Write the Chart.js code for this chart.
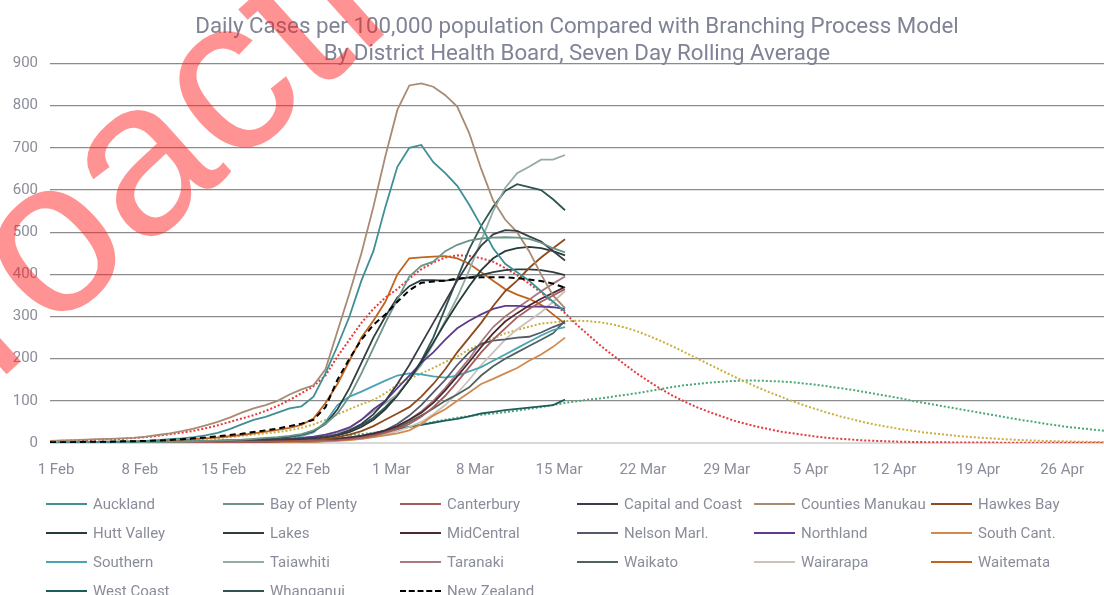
<!DOCTYPE html>
<html>
<head>
<meta charset="utf-8">
<script src="https://cdn.jsdelivr.net/npm/chart.js@4.4.1/dist/chart.umd.min.js"></script>
<style>
  body { margin: 0; background: #fff; }
  #wrap { position: relative; width: 1104px; height: 595px; overflow: hidden; }
  #chart { position: absolute; left: 0; top: 0; }
  #legend {
    position: absolute; left: 46px; top: 489px;
    display: grid; grid-template-columns: repeat(6, 177px); grid-auto-rows: 29px;
    font-family: Roboto, sans-serif; font-size: 15px; color: #8a8d99;
  }
  .item { display: flex; align-items: center; white-space: nowrap; }
  .swatch { width: 41px; height: 0; border-top: 2px solid; margin-right: 6px; }
</style>
</head>
<body>
<div id="wrap">
  <canvas id="chart" width="1104" height="595"></canvas>
  <div id="legend"></div>
</div>
<script>
// tick labels shown on the date axis (every 7th day from 1 Feb)
const tickLabels = ["1 Feb", "8 Feb", "15 Feb", "22 Feb", "1 Mar", "8 Mar", "15 Mar",
  "22 Mar", "29 Mar", "5 Apr", "12 Apr", "19 Apr", "26 Apr"];

// daily categories 1 Feb .. 30 Apr
const months = ["Feb", "Mar", "Apr"];
const monthDays = [28, 31, 30];
const days = [];
months.forEach((m, i) => {
  for (let d = 1; d <= monthDays[i]; d++) days.push(d + " " + m);
});

// seven day rolling average, per 100,000 (1 Feb .. 16 Mar)
const auckland = [1,1,2,2,2,3,3,4,5,7,9,11,14,18,24,33,44,55,62,72,82,87,110,165,230,300,385,455,560,655,700,707,666,640,610,565,515,462,425,405,385,360,335,312];
const bayOfPlenty = [0,0,0,1,1,1,1,2,2,2,3,3,4,5,6,7,8,10,12,14,17,21,30,45,70,110,165,225,285,340,395,420,430,455,470,480,485,487,488,487,484,475,462,452];
const canterbury = [0,0,0,0,0,0,0,0,1,1,1,1,1,2,2,2,3,3,3,4,4,5,5,6,7,9,12,17,24,33,45,62,85,112,145,180,215,245,272,298,318,335,350,365];
const capitalCoast = [0,0,0,0,1,1,1,1,1,2,2,2,3,3,4,4,5,6,7,8,9,10,12,14,20,30,45,68,100,140,185,235,285,335,385,430,468,495,505,503,490,478,455,433];
const countiesManukau = [5,6,7,8,9,10,11,12,15,19,23,28,34,42,50,60,72,82,90,100,115,127,137,175,265,355,450,560,680,790,848,853,845,825,798,735,650,575,530,500,455,400,350,320];
const hawkesBay = [0,0,0,0,0,0,0,0,0,0,1,1,1,1,2,2,2,3,3,4,5,6,8,10,14,20,28,40,55,70,85,110,140,175,215,250,285,325,360,385,415,440,462,483];
const huttValley = [0,0,0,0,0,1,1,1,1,1,2,2,2,3,3,4,4,5,6,7,8,9,11,13,18,26,38,55,80,112,150,192,238,285,330,372,410,438,455,462,465,462,455,445];
const lakes = [0,0,0,0,1,1,1,1,2,2,2,3,3,4,5,6,7,8,10,12,15,20,28,45,80,130,190,250,300,345,372,386,386,385,388,393,398,405,410,412,412,410,405,398];
const midCentral = [0,0,0,0,0,0,0,1,1,1,1,1,2,2,2,3,3,4,4,5,5,6,7,8,10,13,17,22,30,40,55,72,95,125,158,192,228,260,288,308,326,342,356,370];
const nelsonMarl = [0,0,0,0,0,0,0,0,1,1,1,1,1,2,2,2,3,3,4,4,5,6,7,8,10,13,17,22,30,45,65,90,120,150,185,215,235,243,246,250,252,262,275,286];
const northland = [0,0,0,0,0,0,0,1,1,1,1,2,2,2,3,3,4,5,6,8,10,12,15,20,27,37,55,80,100,130,160,190,215,245,272,290,305,318,325,325,323,324,322,318];
const southCant = [0,0,0,0,0,0,0,0,0,0,0,0,1,1,1,1,1,2,2,2,2,3,3,4,5,7,10,14,18,23,30,45,65,80,100,120,140,152,165,178,195,210,228,250];
const southern = [0,0,0,0,0,1,1,1,1,2,2,3,3,4,5,6,7,8,10,12,14,17,25,50,90,110,122,135,148,160,165,163,158,155,160,170,180,195,210,225,240,255,268,275];
const taiawhiti = [0,0,0,0,0,0,0,0,0,0,0,0,1,1,1,2,2,3,4,5,6,8,10,14,22,35,55,75,95,115,150,185,235,290,345,410,480,550,605,640,655,672,672,683];
const taranaki = [0,0,0,0,0,0,1,1,1,1,1,2,2,2,3,3,4,4,5,5,6,6,7,8,10,13,17,23,30,40,55,75,100,130,165,200,240,275,300,320,340,360,378,395];
const waikato = [0,0,0,0,0,0,1,1,1,1,1,2,2,2,3,3,3,4,4,5,5,6,6,7,8,11,15,20,27,36,50,65,82,100,115,132,160,182,200,215,230,245,260,290];
const wairarapa = [0,0,0,0,0,0,0,0,0,0,1,1,1,1,1,2,2,2,3,3,3,4,4,5,6,8,10,14,20,28,38,50,68,90,118,150,185,215,245,270,290,310,335,360];
const waitemata = [1,1,2,2,2,3,3,4,4,5,6,7,9,11,13,16,19,23,27,31,36,43,58,95,140,195,250,290,335,400,438,440,442,443,438,425,405,385,365,352,342,328,305,283];
const westCoast = [0,0,0,0,0,0,0,0,0,0,0,0,0,0,0,0,0,0,0,0,1,2,3,5,8,12,17,23,28,33,38,43,48,53,57,63,70,74,78,81,84,87,90,103];
const whanganui = [0,0,0,0,0,0,1,1,1,1,2,2,2,3,3,4,5,6,7,8,9,11,13,16,22,30,42,60,85,115,150,195,250,320,390,460,515,560,598,614,607,600,578,552];
const newZealand = [2,2,2,3,3,3,4,4,5,6,7,9,11,13,16,19,22,26,30,34,40,46,55,85,150,200,245,280,305,335,362,380,383,385,390,392,393,393,393,391,388,384,378,368];

// branching process model scenarios (1 Feb .. 30 Apr)
const modelRed = [4,5,6,7,8,9,10,12,14,17,21,24,29,35,42,50,58,66,76,88,102,118,135,160,205,245,285,318,345,365,390,412,428,440,445,444,438,430,415,398,378,357,333,308,280,255,230,208,186,165,146,128,112,98,85,74,64,54,46,39,33,27,23,19,15,12,10,8,6,5,4,3,2.5,2,1.7,1.5,1.3,1.1,1,0.9,0.8,0.7,0.6,0.5,0.5,0.4,0.4,0.3,0.3];
const modelYellow = [1,1,1,2,2,2,3,3,4,5,6,7,8,10,12,14,17,20,23,26,30,36,44,55,68,80,92,102,118,138,152,165,178,192,205,222,235,248,260,268,276,283,286,289,290,289,286,281,274,265,254,242,229,215,201,187,173,159,146,133,121,110,99,89,80,71,63,56,49,43,38,33,29,25,22,19,16,14,12,10,8.5,7,6,5,4.3,3.6,3,2.5,2];
const modelGreen = [1,1,1,1.5,1.5,2,2,2.5,3,3,3.5,4,4.5,5,6,6.5,7,8,9,10,11,12,13,15,17,19,21,24,28,33,38,44,50,55,60,64,67,70,73,77,81,85,90,95,99,103,106,110,114,118,123,128,133,137,140,143,145,147,148,148,147,146,144,141,138,134,130,126,121,116,111,106,100,95,90,85,80,75,70,65,60,55,51,46,42,38,35,32,29];

const series = [
  { label: "Auckland", data: auckland, color: "#3f8f94" },
  { label: "Bay of Plenty", data: bayOfPlenty, color: "#6d9488" },
  { label: "Canterbury", data: canterbury, color: "#a65c5c" },
  { label: "Capital and Coast", data: capitalCoast, color: "#383d47" },
  { label: "Counties Manukau", data: countiesManukau, color: "#a88b73" },
  { label: "Hawkes Bay", data: hawkesBay, color: "#8f4a1c" },
  { label: "Hutt Valley", data: huttValley, color: "#253b3c" },
  { label: "Lakes", data: lakes, color: "#2f3d3e" },
  { label: "MidCentral", data: midCentral, color: "#4b2a33" },
  { label: "Nelson Marl.", data: nelsonMarl, color: "#545a6c" },
  { label: "Northland", data: northland, color: "#5e3b8e" },
  { label: "South Cant.", data: southCant, color: "#d08a50" },
  { label: "Southern", data: southern, color: "#4aa3b3" },
  { label: "Taiawhiti", data: taiawhiti, color: "#94aca2" },
  { label: "Taranaki", data: taranaki, color: "#a8787e" },
  { label: "Waikato", data: waikato, color: "#4d6360" },
  { label: "Wairarapa", data: wairarapa, color: "#cbc2b8" },
  { label: "Waitemata", data: waitemata, color: "#c0651f" },
  { label: "West Coast", data: westCoast, color: "#1f5c5c" },
  { label: "Whanganui", data: whanganui, color: "#2f5553" },
];

const textGrey = "#8a8d99";
const font = "Roboto, 'Liberation Sans', sans-serif";

const datasets = [
  {
    label: "New Zealand", data: newZealand, borderColor: "#000", borderWidth: 2,
    borderDash: [6, 4], pointRadius: 0, tension: 0,
  },
];
series.forEach((s) => {
  datasets.push({
    label: s.label, data: s.data, borderColor: s.color, borderWidth: 1.8,
    pointRadius: 0, tension: 0,
  });
});
[["Model A", modelRed, "#e8383c"], ["Model B", modelYellow, "#c9b040"], ["Model C", modelGreen, "#4aa877"]]
  .forEach(([label, data, color]) => {
    datasets.push({
      label: label, data: data, borderColor: color, borderWidth: 2,
      borderDash: [2, 2], pointRadius: 0, tension: 0,
    });
  });

// "Proactively released" stamp over the top left of the chart
const stamp = {
  id: "stamp",
  afterDraw(chart) {
    const ctx = chart.ctx;
    const size = 220;
    ctx.save();
    ctx.font = size + "px 'Liberation Sans', Arial, sans-serif";
    const pre = ctx.measureText("Pr").width;
    const ow = ctx.measureText("o").width;
    const ang = -42 * Math.PI / 180;
    const lx = pre + ow / 2, ly = -0.26 * size;
    const tx = 57, ty = 252;
    const ox = tx - (lx * Math.cos(ang) - ly * Math.sin(ang));
    const oy = ty - (lx * Math.sin(ang) + ly * Math.cos(ang));
    ctx.translate(ox, oy);
    ctx.rotate(ang);
    ctx.fillStyle = "rgba(255, 30, 30, 0.48)";
    ctx.fillText("Proactively released", 0, 0);
    ctx.restore();
  },
};

new Chart(document.getElementById("chart"), {
  type: "line",
  data: { labels: days, datasets: datasets },
  plugins: [stamp],
  options: {
    responsive: false,
    animation: false,
    devicePixelRatio: 1,
    plugins: {
      legend: { display: false },
      tooltip: { enabled: false },
      title: {
        display: true,
        fullSize: false,
        text: [
          "Daily Cases per 100,000 population Compared with Branching Process Model",
          "By District Health Board, Seven Day Rolling Average",
        ],
        color: "#7f8395",
        font: { family: font, size: 22.3, weight: "normal", lineHeight: 1.2 },
        padding: { top: 14, bottom: -4 },
      },
    },
    scales: {
      x: {
        afterFit: (scale) => { scale.height = 152; },
        grid: { display: false },
        border: { display: false },
        ticks: {
          autoSkip: false,
          maxRotation: 0,
          padding: 10,
          labelOffset: 6,
          color: textGrey,
          font: { family: font, size: 15 },
          callback: function (value, index) {
            const lab = this.getLabelForValue(value);
            return tickLabels.includes(lab) && index % 7 === 0 ? lab : null;
          },
        },
      },
      y: {
        min: 0,
        max: 900,
        afterFit: (scale) => { scale.width = 50; },
        border: { display: false },
        grid: {
          drawTicks: false,
          color: (c) => (c.tick && c.tick.value === 0 ? "#d9d9d9" : "#8c8c8c"),
          lineWidth: (c) => (c.tick && c.tick.value === 0 ? 2 : 1.2),
        },
        ticks: {
          stepSize: 100,
          padding: 12,
          color: textGrey,
          font: { family: font, size: 15 },
        },
      },
    },
  },
});

// legend laid out in six columns like the original
const legendItems = series.map((s) => ({ label: s.label, color: s.color, dash: false }));
legendItems.push({ label: "New Zealand", color: "#000", dash: true });
const legendDiv = document.getElementById("legend");
legendItems.forEach((it) => {
  const item = document.createElement("div");
  item.className = "item";
  const sw = document.createElement("span");
  sw.className = "swatch";
  sw.style.borderTopColor = it.color;
  if (it.dash) sw.style.borderTopStyle = "dashed";
  const txt = document.createElement("span");
  txt.textContent = it.label;
  item.appendChild(sw);
  item.appendChild(txt);
  legendDiv.appendChild(item);
});
</script>
</body>
</html>
